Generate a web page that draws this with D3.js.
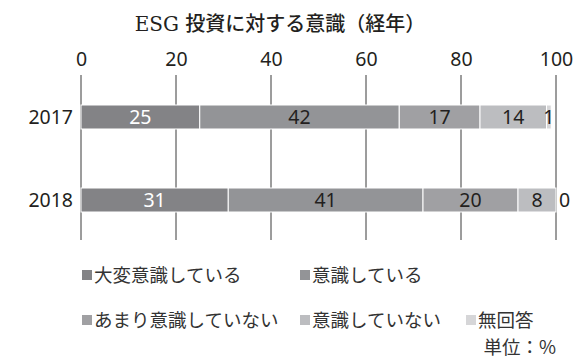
<!DOCTYPE html>
<html>
<head>
<meta charset="utf-8">
<script src="https://cdn.jsdelivr.net/npm/d3@7"></script>
<style>
  body { margin: 0; background: #fff; }
  svg { display: block; }
</style>
</head>
<body>
<svg id="chart" width="574" height="358"></svg>
<script>
// Survey years (rows) and answer categories (stacked segments)
const years = ["2017", "2018"];
const categories = ["大変意識している", "意識している", "あまり意識していない", "意識していない", "無回答"];
const values2017 = [25, 42, 17, 14, 1];
const values2018 = [31, 41, 20, 8, 0];
const xTicks = [0, 20, 40, 60, 80, 100];
const colors = ["#838386", "#939497", "#a0a0a3", "#bcbdc0", "#d6d6d8"];
const labelColors = ["#ffffff", "#231f20", "#231f20", "#231f20", "#231f20"];

const rows = years.map((y, i) => ({ year: y, values: [values2017, values2018][i] }));

const svg = d3.select("#chart");
const textColor = "#231f20";
const sansFont = "'Noto Sans', 'Noto Sans CJK JP', sans-serif";

const x = d3.scaleLinear().domain([0, 100]).range([81, 556]);
const y = d3.scaleBand().domain(years).range([63.5, 253.5]).paddingInner(0.711).paddingOuter(0.5);

// Title
svg.append("text")
  .attr("x", 280).attr("y", 31)
  .attr("text-anchor", "middle")
  .attr("font-family", "'DejaVu Serif', 'Liberation Serif', 'Noto Sans CJK JP', serif")
  .attr("font-size", 20)
  .attr("font-weight", 500)
  .attr("fill", textColor)
  .text("ESG 投資に対する意識（経年）");

// Top axis labels and vertical gridlines
const axis = d3.axisTop(x).tickValues(xTicks).tickSize(0).tickPadding(0);
const axisG = svg.append("g").attr("transform", "translate(0,66)").call(axis);
axisG.select(".domain").remove();
axisG.selectAll("text")
  .attr("font-family", sansFont)
  .attr("font-size", 19.5)
  .attr("fill", textColor);

svg.append("g").selectAll("line")
  .data(xTicks)
  .join("line")
  .attr("x1", d => x(d)).attr("x2", d => x(d))
  .attr("y1", 75).attr("y2", 240)
  .attr("stroke", "#3a3a3a")
  .attr("stroke-width", 1);

// Year labels
svg.append("g").selectAll("text")
  .data(years)
  .join("text")
  .attr("x", 73)
  .attr("y", d => y(d) + y.bandwidth() / 2)
  .attr("dy", "0.36em")
  .attr("text-anchor", "end")
  .attr("font-family", sansFont)
  .attr("font-size", 19.5)
  .attr("fill", textColor)
  .text(d => d);

// Stacked segments
rows.forEach(row => {
  let acc = 0;
  const segs = row.values.map((v, i) => {
    const s = { i, v, x0: acc, x1: acc + v };
    acc += v;
    return s;
  });
  const g = svg.append("g");
  g.selectAll("rect")
    .data(segs)
    .join("rect")
    .attr("x", d => x(d.x0))
    .attr("y", y(row.year))
    .attr("width", d => x(d.x1) - x(d.x0))
    .attr("height", y.bandwidth())
    .attr("fill", d => colors[d.i])
    .attr("stroke", "#ffffff")
    .attr("stroke-width", d => d.v > 0 ? 1 : 0);
  g.selectAll("text")
    .data(segs)
    .join("text")
    .attr("x", d => d.v > 0 ? (x(d.x0) + x(d.x1)) / 2 : x(d.x1) + 3)
    .attr("y", y(row.year) + y.bandwidth() / 2)
    .attr("dy", "0.36em")
    .attr("text-anchor", d => d.v > 0 ? "middle" : "start")
    .attr("font-family", sansFont)
    .attr("font-size", 19.5)
    .attr("fill", d => d.v > 0 ? labelColors[d.i] : textColor)
    .text(d => d.v);
});

// Legend
const legendPos = [[81, 275], [299, 275], [81, 320], [299, 320], [465, 320]];
const legend = svg.append("g").selectAll("g")
  .data(categories)
  .join("g")
  .attr("transform", (d, i) => `translate(${legendPos[i][0]},${legendPos[i][1]})`);
legend.append("rect")
  .attr("x", 1).attr("y", -5)
  .attr("width", 10).attr("height", 10)
  .attr("fill", (d, i) => colors[i]);
legend.append("text")
  .attr("x", 13).attr("y", 0)
  .attr("dy", "0.36em")
  .attr("font-family", "'Noto Sans CJK JP', sans-serif")
  .attr("font-size", 18.5)
  .attr("fill", "#333333")
  .text(d => d);

// Unit note
svg.append("text")
  .attr("x", 556).attr("y", 347)
  .attr("dy", "0.36em")
  .attr("text-anchor", "end")
  .attr("font-family", "'Noto Sans CJK JP', sans-serif")
  .attr("font-size", 18.5)
  .attr("fill", "#333333")
  .text("単位：%");
</script>
</body>
</html>
